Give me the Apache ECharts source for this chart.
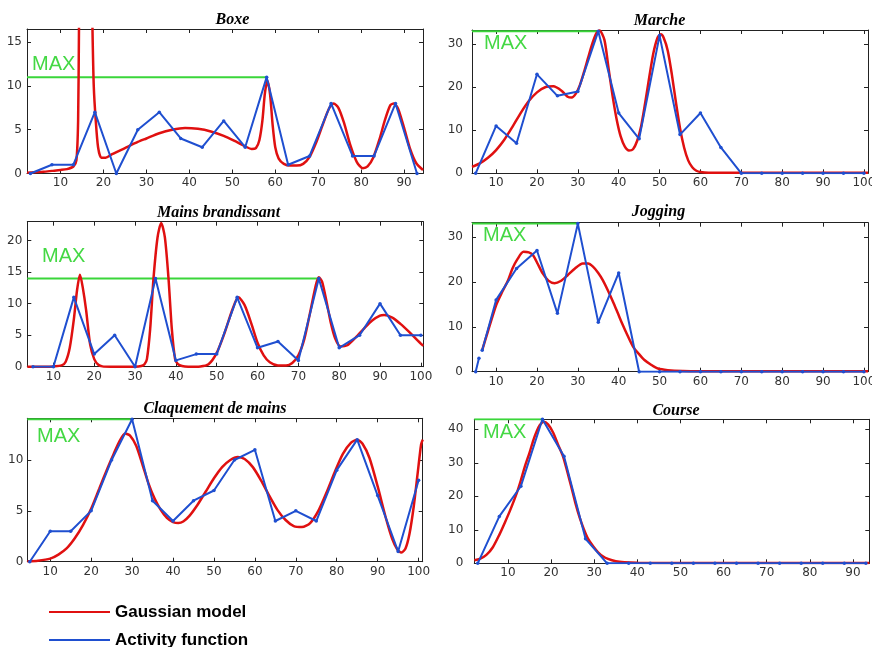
<!DOCTYPE html>
<html><head><meta charset="utf-8">
<script src="https://cdn.jsdelivr.net/npm/echarts@6/dist/echarts.min.js"></script>
<style>html,body{margin:0;padding:0;background:#fff}#c{width:872px;height:647px}</style>
</head><body><div id="c"></div>
<script>
// ---------- tick labels ----------
const xTicksTo90 = [10,20,30,40,50,60,70,80,90];
const xTicksTo100 = [10,20,30,40,50,60,70,80,90,100];
const yTicksBoxe = [0,5,10,15];
const yTicksMarche = [0,10,20,30];
const yTicksMains = [0,5,10,15,20];
const yTicksJogging = [0,10,20,30];
const yTicksClaq = [0,5,10];
const yTicksCourse = [0,10,20,30,40];

// ---------- Boxe ----------
const boxeX = [3,8,13,18,23,28,33,38,43,48,53,58,63,68,73,78,83,88,93];
const boxeActivity = [0,1,1,7,0,5,7,4,3,6,3,11,1,2,8,2,2,8,0];
const boxeGauss = [[2.2,0.1],[4,0.15],[6,0.2],[8,0.3],[10,0.4],[11.5,0.5],[13,0.8],[13.7,1.5],[14.1,6],[14.3,16.4],[14.6,30],[15.5,50],[16.5,45],[17.2,25],[17.45,16.4],[17.75,9.9],[18.2,6.1],[18.75,3.0],[19.5,1.8],[20.5,1.8],[22,2.2],[25,2.9],[28,3.6],[30,4.0],[33,4.6],[36,5.0],[39,5.2],[42,5.1],[45,4.8],[48,4.3],[51,3.6],[53,3.1],[54.5,2.8],[55.5,2.9],[56.3,3.8],[57,6],[57.6,9.2],[58.2,10.6],[58.8,9],[59.4,5.5],[60,3],[60.8,1.7],[62,1.1],[63.5,0.9],[65,0.9],[66.5,1.1],[68,1.9],[69.5,3.5],[71,5.5],[72.5,7.4],[73.6,8],[74.7,7.5],[76,5.8],[77.5,3.2],[79,1.3],[80.4,0.6],[81.5,0.8],[82.8,1.8],[84.2,3.8],[85.6,6.2],[86.8,7.8],[87.6,8],[88.6,7.4],[90,5.2],[91.4,2.8],[92.8,1.2],[94.4,0.4]];
const boxeMax = [58, 11];

// ---------- Marche ----------
const marcheX = [5,10,15,20,25,30,35,40,45,50,55,60,65,70,75,80,85,90,95,100];
const marcheActivity = [0,11,7,23,18,19,33,14,8,32,9,14,6,0,0,0,0,0,0,0];
const marcheGauss = [[4.1,1.5],[6,2.3],[8,3.6],[10,5.4],[12,7.8],[14,10.8],[16,14],[18,16.8],[20,18.8],[22,20],[24,20.2],[26,19.2],[27.5,17.8],[28.5,17.6],[29.5,18.5],[30.5,20.5],[31.5,23.5],[32.5,26.8],[33.5,30],[34.5,32.5],[35.3,33.2],[36.5,31],[37.5,24.5],[38.5,18],[39.5,12.5],[40.5,8.5],[41.5,6.2],[42.5,5.3],[43.5,5.6],[44.5,7.5],[45.5,11],[46.5,16.5],[47.5,22.5],[48.5,28],[49.5,31.5],[50.3,32.3],[51,31.5],[52,28.5],[53,23],[54,16.5],[55,10.5],[56,6],[57,3],[58,1.4],[59,0.6],[60,0.3],[62,0.15],[70,0.15],[80,0.15],[90,0.15],[101,0.15]];
const marcheMax = [35.3, 33];

// ---------- Mains brandissant ----------
const mainsX = [5,10,15,20,25,30,35,40,45,50,55,60,65,70,75,80,85,90,95,100];
const mainsActivity = [0,0,11,2,5,0,14,1,2,2,11,3,4,1,14,3,5,10,5,5];
const mainsGauss = [[3.6,0],[8,0],[10,0.05],[12,0.2],[13,0.8],[14,3],[15,7.5],[15.8,12.2],[16.5,14.6],[17.2,12.5],[18,9],[19,3.5],[20,1.2],[21,0.3],[22,0.05],[24,0],[30,0],[31.5,0.1],[32.3,0.4],[32.9,1.2],[33.7,6],[34.5,13.9],[35.5,20.5],[36.4,22.8],[37.3,20.5],[38.2,13.9],[39,6],[39.8,1.2],[40.5,0.4],[41.5,0.1],[43,0],[46,0.05],[48,0.4],[50,2.2],[52,5.5],[53.8,9],[55.3,11],[56.8,9.8],[58.5,6.8],[60,3.8],[61.5,1.8],[63,0.7],[65,0.2],[67,0.2],[68.5,0.6],[70,1.8],[71.5,4.5],[73,9],[74.3,13],[75,14.2],[75.8,13.5],[77,10],[78,6.8],[79,4.5],[80.3,3.2],[82,3.4],[84,4.6],[86,6],[88,7.3],[90,8.1],[91,8.2],[93,7.8],[95,6.8],[97,5.6],[99,4.3],[100.6,3.3]];
const mainsMax = [75, 14];

// ---------- Jogging ----------
const joggingX = [5,5.8,6.2,6.6,10,15,20,25,30,35,40,45,50,55,60,65,70,75,80,85,90,95,100];
const joggingActivity = [0,3,null,4.8,16,23,27,13,33,11,22,0,0,0,0,0,0,0,0,0,0,0,0];
const joggingGauss = [[6.6,4.8],[8,9],[10,14.8],[11.5,17.8],[12.9,20.3],[14,23],[15.3,25.2],[16.7,26.7],[18,26.6],[19,26],[20.2,24],[21.4,21.9],[22.8,20.3],[24.3,19.7],[25.8,20.2],[27.5,21.5],[29.3,23],[31.2,24.1],[32.5,24.1],[33.7,23.4],[35,22],[36.1,20.4],[37.3,18.2],[38.6,15.6],[39.8,13],[41,10.4],[42.2,8],[43.5,5.6],[44.9,4],[46.3,2.6],[48,1.5],[49.6,0.7],[52,0.35],[55.7,0.15],[60,0.1],[70,0.1],[80,0.1],[90,0.1],[101,0.1]];
const joggingMax = [30, 33];

// ---------- Claquement de mains ----------
const claqX = [5,10,15,20,25,30,35,40,45,50,55,60,65,70,75,80,85,90,95,100];
const claqActivity = [0,3,3,5,10,14,6,4,6,7,10,11,4,5,4,9,12,6.5,1,8];
const claqGauss = [[4.4,0.05],[7,0.1],[10,0.3],[12,0.7],[14,1.3],[16,2.3],[18,3.6],[20,5.2],[22,7.2],[24,9.2],[25.5,10.6],[27,11.9],[28.3,12.6],[29.5,12.4],[31,11.4],[32.5,9.6],[34,7.7],[35.5,6.2],[37,5.1],[38.5,4.3],[40,3.9],[41.3,3.8],[42.5,3.95],[44,4.5],[46,5.6],[48,6.9],[50,8.2],[52,9.3],[54,10],[55.8,10.3],[57.5,10.1],[59.5,9.3],[61.5,8],[63.5,6.5],[65.5,5.1],[67.5,4.1],[69.5,3.5],[71.5,3.4],[73.5,3.8],[75.5,5],[77.5,6.8],[79.5,8.8],[81.5,10.6],[83.5,11.7],[85,12],[86.3,11.6],[88,10.2],[90,7.4],[92,4.3],[93.5,2.3],[94.8,1.2],[95.8,0.9],[96.8,1.3],[97.8,2.8],[98.8,5.4],[99.8,8.8],[100.6,11.5],[101,12]];
const claqMax = [30, 14];

// ---------- Course ----------
const courseX = [3,8,13,18,23,28,33,38,43,48,53,58,63,68,73,78,83,88,93];
const courseActivity = [0,14,23,43,32,7.3,0,0,0,0,0,0,0,0,0,0,0,0,0];
const courseGauss = [[2.2,0.9],[3.5,1.3],[5,2.5],[6.5,4.8],[8,8.5],[9.3,12.2],[10.5,15.8],[12,20.8],[13,24.8],[13.9,28.8],[15,33],[15.9,36.8],[16.7,39.5],[17.4,41.3],[18.3,42.3],[19.3,41.5],[20.5,39],[21.6,35.5],[22.8,31.8],[23.8,27.2],[24.7,22.8],[25.6,18.2],[26.6,13.8],[27.6,10.2],[28.6,7.3],[29.8,5],[30.9,3.3],[32,2.1],[33.2,1.3],[35,0.6],[37,0.3],[40,0.15],[50,0.1],[60,0.1],[70,0.1],[80,0.1],[93.8,0.1]];
const courseMax = [18.3, 43];

// ---------- layout (positions / styles) ----------
const panels = [
  {title:'Boxe', t:[232.5,19.5], grid:{left:27,top:29,width:396,height:144.5}, xr:[2.2,94.4], yr:[0,16.5], xt:xTicksTo90, yt:yTicksBoxe, ym:5, xm:3, ax:boxeX, ay:boxeActivity, g:boxeGauss, mx:boxeMax, maxPos:[32,64]},
  {title:'Marche', t:[659.5,20.5], grid:{left:472,top:30,width:396,height:143.3}, xr:[4.1,101], yr:[0,33.3], xt:xTicksTo100, yt:yTicksMarche, ym:9, xm:4, ax:marcheX, ay:marcheActivity, g:marcheGauss, mx:marcheMax, maxPos:[484,43]},
  {title:'Mains brandissant', t:[218.5,212.8], grid:{left:27.3,top:221.7,width:396,height:145}, xr:[3.6,100.6], yr:[0,23], xt:xTicksTo100, yt:yTicksMains, ym:5, xm:4, ax:mainsX, ay:mainsActivity, g:mainsGauss, mx:mainsMax, maxPos:[42,256.7]},
  {title:'Jogging', t:[658.5,212], grid:{left:472,top:222.7,width:396,height:149}, xr:[4.1,101], yr:[0,33.2], xt:xTicksTo100, yt:yTicksJogging, ym:9, xm:4, ax:joggingX, ay:joggingActivity, g:joggingGauss, mx:joggingMax, maxPos:[483,235]},
  {title:'Claquement de mains', t:[215,408.5], grid:{left:27.3,top:418.3,width:395.4,height:143.4}, xr:[4.4,101], yr:[0,14.1], xt:xTicksTo100, yt:yTicksClaq, ym:4, xm:4, ax:claqX, ay:claqActivity, g:claqGauss, mx:claqMax, maxPos:[37,436.7]},
  {title:'Course', t:[676,410.5], grid:{left:474.3,top:419.3,width:395,height:144}, xr:[2.2,93.8], yr:[0,43], xt:xTicksTo90, yt:yTicksCourse, ym:11, xm:4, ax:courseX, ay:courseActivity, g:courseGauss, mx:courseMax, maxPos:[483,432.5]}
];

const RED = '#e01010', BLUE = '#1f4fd0', GREEN = '#3ad63a', AXIS = '#222';
const grids = [], xAxes = [], yAxes = [], series = [], graphics = [];

panels.forEach((p, i) => {
  grids.push(Object.assign({outerBoundsMode:'none', containLabel:false}, p.grid));
  const tickStyle = {inside:true, length:4, lineStyle:{color:AXIS, width:1}};
  const labStyle = {fontSize:12, fontFamily:'DejaVu Sans', color:'#333'};
  xAxes.push({type:'value', gridIndex:i, position:'bottom', min:p.xr[0], max:p.xr[1],
    axisLine:{onZero:false, lineStyle:{color:AXIS, width:1}},
    axisTick:Object.assign({customValues:p.xt}, tickStyle),
    axisLabel:Object.assign({customValues:p.xt, margin:p.xm}, labStyle),
    splitLine:{show:false}});
  xAxes.push({type:'value', gridIndex:i, position:'top', min:p.xr[0], max:p.xr[1],
    axisLine:{onZero:false, lineStyle:{color:AXIS, width:1}},
    axisTick:Object.assign({customValues:p.xt}, tickStyle),
    axisLabel:{show:false}, splitLine:{show:false}});
  yAxes.push({type:'value', gridIndex:i, position:'left', min:p.yr[0], max:p.yr[1],
    axisLine:{onZero:false, lineStyle:{color:AXIS, width:1}},
    axisTick:Object.assign({customValues:p.yt}, tickStyle),
    axisLabel:Object.assign({customValues:p.yt, margin:p.ym}, labStyle),
    splitLine:{show:false}});
  yAxes.push({type:'value', gridIndex:i, position:'right', min:p.yr[0], max:p.yr[1],
    axisLine:{onZero:false, lineStyle:{color:AXIS, width:1}},
    axisTick:Object.assign({customValues:p.yt}, tickStyle),
    axisLabel:{show:false}, splitLine:{show:false}});

  const xi = 2*i, yi = 2*i;
  series.push({type:'line', name:'MAX '+p.title, xAxisIndex:xi, yAxisIndex:yi,
    data:[[p.xr[0], p.mx[1]], [p.mx[0], p.mx[1]]], showSymbol:false, symbol:'none',
    lineStyle:{color:GREEN, width:2}, itemStyle:{color:GREEN}, silent:true, z:2});
  series.push({type:'line', name:'Gaussian model', xAxisIndex:xi, yAxisIndex:yi,
    data:p.g, smooth:0.25, symbol:'none', showSymbol:false, clip:true,
    lineStyle:{color:RED, width:2.5}, itemStyle:{color:RED}, z:3});
  series.push({type:'line', name:'Activity function', xAxisIndex:xi, yAxisIndex:yi,
    data:p.ax.map((x, k) => [x, p.ay[k] === null ? '-' : p.ay[k]]), smooth:false,
    symbol:'circle', symbolSize:3.5, showSymbol:true, clip:true, connectNulls:false,
    lineStyle:{color:BLUE, width:2}, itemStyle:{color:BLUE}, z:4});

  graphics.push({type:'text', silent:true, style:{x:p.t[0], y:p.t[1], text:p.title,
    font:'italic bold 16px "Liberation Serif"', fill:'#000', align:'center', verticalAlign:'middle'}});
  graphics.push({type:'text', silent:true, z:10, style:{x:p.maxPos[0], y:p.maxPos[1], text:'MAX',
    font:'20px "Liberation Sans"', fill:'#44d844', align:'left', verticalAlign:'middle'}});
});

const chart = echarts.init(document.getElementById('c'), null, {renderer:'canvas'});
chart.setOption({
  animation:false,
  backgroundColor:'#fff',
  grid:grids, xAxis:xAxes, yAxis:yAxes, series:series, graphic:graphics,
  legend:{data:['Gaussian model','Activity function'], orient:'vertical', left:49, top:602,
    width:300, height:90,
    padding:0, itemGap:8, itemWidth:61, itemHeight:2, icon:'rect', selectedMode:false,
    textStyle:{fontSize:17, fontWeight:'bold', fontFamily:'Liberation Sans', color:'#000', lineHeight:20}}
});
</script></body></html>
